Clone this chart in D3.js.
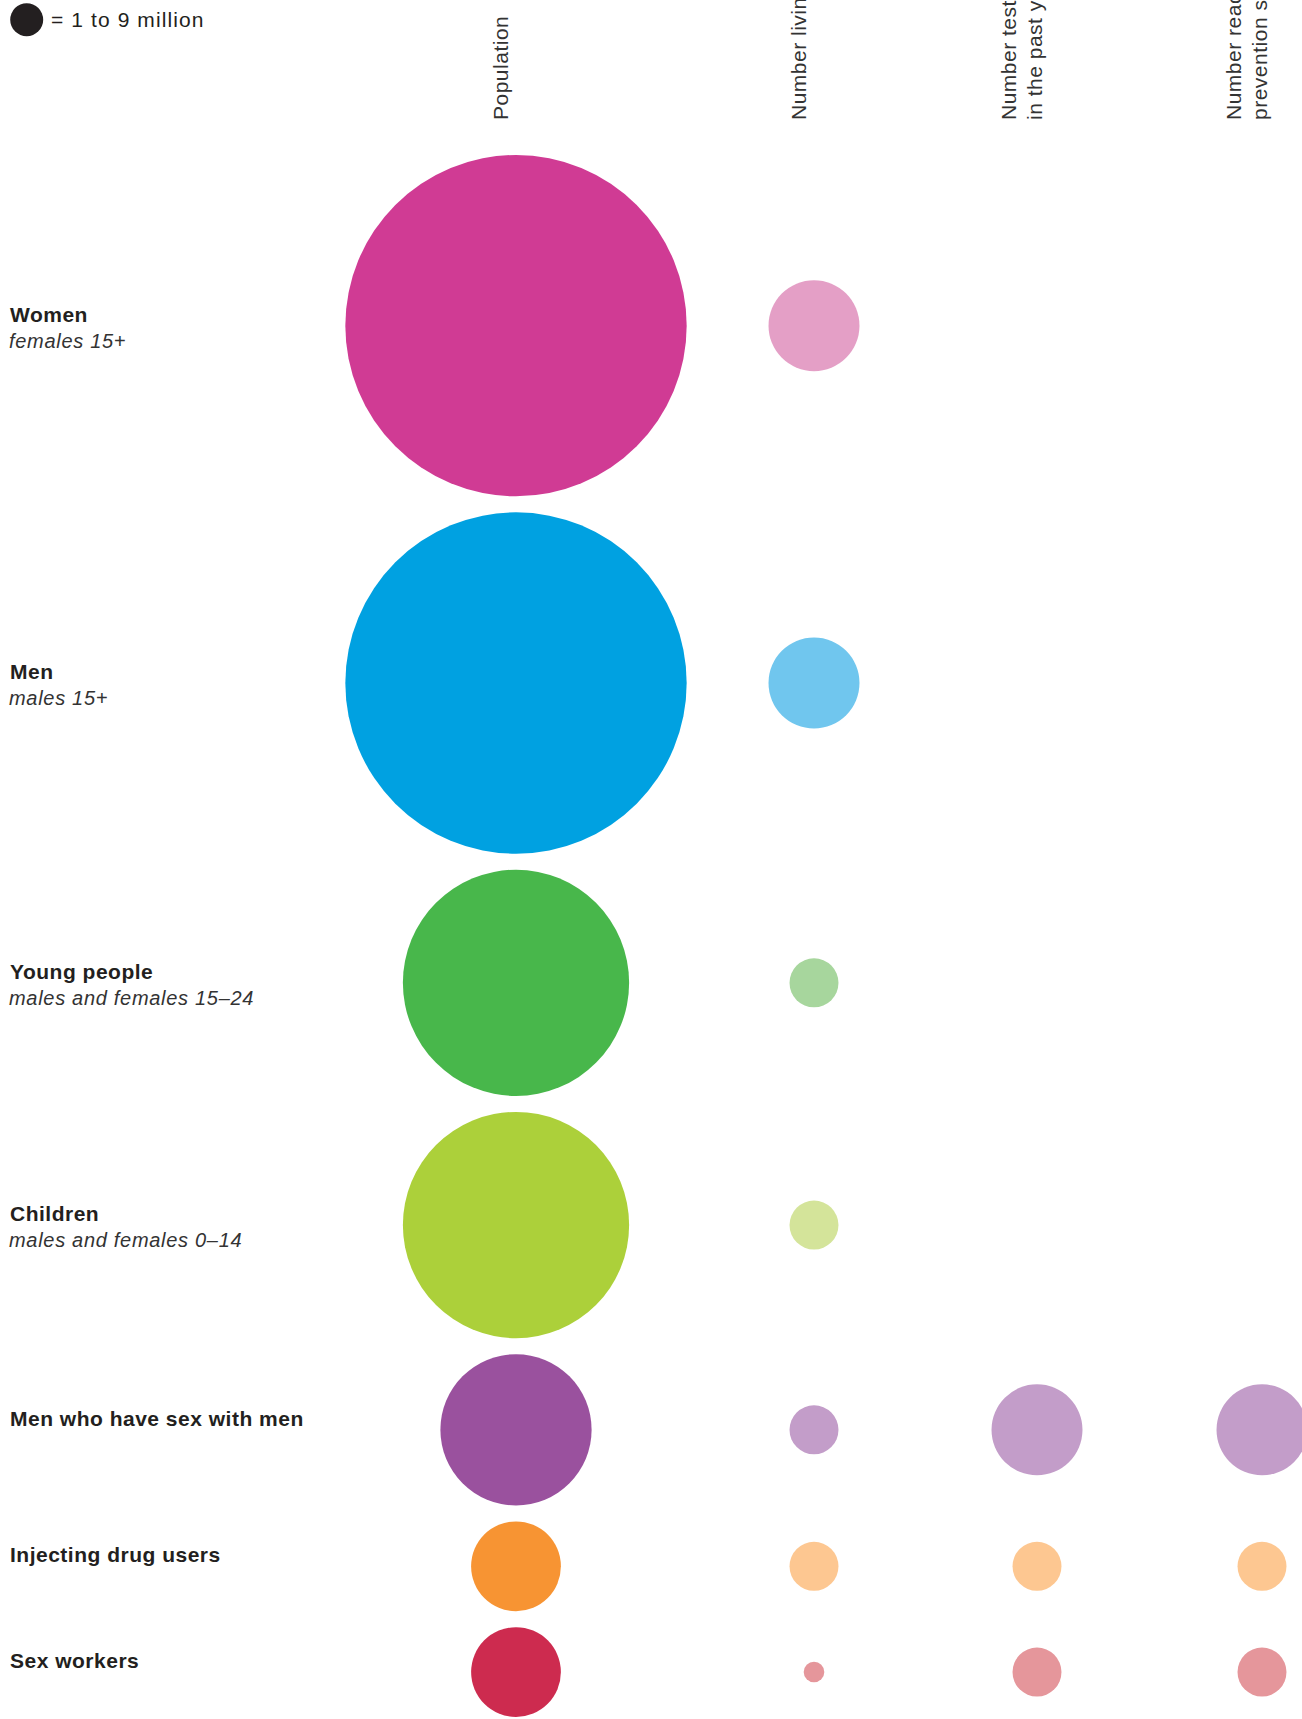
<!DOCTYPE html>
<html>
<head>
<meta charset="utf-8">
<script src="https://cdn.jsdelivr.net/npm/d3@7"></script>
<style>
  body { margin: 0; background: #fff; }
  svg { display: block; }
  text { font-family: "Liberation Sans", Arial, Helvetica, sans-serif; fill: #231f20; }
  .group-name { font-weight: bold; font-size: 21px; letter-spacing: 0.5px; }
  .group-sub { font-style: italic; font-size: 20px; letter-spacing: 0.7px; fill: #333; }
  .col-head { font-size: 21px; letter-spacing: 0.5px; fill: #333; }
  .legend-text { font-size: 21px; letter-spacing: 1.1px; }
</style>
</head>
<body>
<div id="chart"></div>
<script>
// groups (rows)
const groups = ["Women", "Men", "Young people", "Children",
    "Men who have sex with men", "Injecting drug users", "Sex workers"];
const subtitles = ["females 15+", "males 15+", "males and females 15–24",
    "males and females 0–14", "", "", ""];

// measures (columns) and their header lines
const measures = ["Population", "Number living with HIV",
    "Number tested for HIV in the past year", "Number reached by HIV prevention services"];
const headerLines = [
    ["Population"],
    ["Number living with HIV"],
    ["Number tested for HIV", "in the past year"],
    ["Number reached by HIV", "prevention services"]
];

// values in millions (null = not shown)
const population = [107, 107, 47, 47, 21, 7.4, 7.4];
const livingWithHIV = [7.6, 7.6, 2.2, 2.2, 2.2, 2.2, 0.39];
const testedPastYear = [null, null, null, null, 7.6, 2.2, 2.2];
const reachedPrevention = [null, null, null, null, 7.6, 2.2, 2.2];

// legend
const legendValue = 1;
const legendLabel = "= 1 to 9 million";

// colours
const baseColors = ["#d03b94", "#00a1e1", "#48b74b", "#acd03a", "#9a519e", "#f79433", "#cd2b4f"];
const lightColors = ["#e49fc6", "#70c6ee", "#a7d69d", "#d4e49a", "#c39dc9", "#fdc791", "#e5969b"];

const width = 1302, height = 1719;

const svg = d3.select("#chart").append("svg")
    .attr("width", width)
    .attr("height", height)
    .attr("viewBox", `0 0 ${width} ${height}`);

const series = [population, livingWithHIV, testedPastYear, reachedPrevention];

// bubble size: area proportional to value, legend bubble = 1 million
const r = d3.scaleSqrt().domain([0, legendValue]).range([0, 16.5]);

const x = d3.scaleOrdinal().domain(measures).range([516, 814, 1037, 1262]);

// stack rows: each row is as tall as its largest bubble plus a gap
const rowGap = 16;
let rowTop = 155;
const rowY = groups.map((g, i) => {
    const maxR = d3.max(series, s => s[i] == null ? 0 : r(s[i]));
    const cy = rowTop + maxR;
    rowTop = cy + maxR + rowGap;
    return cy;
});

// legend
svg.append("circle")
    .attr("cx", 26.7)
    .attr("cy", 19.7)
    .attr("r", r(legendValue))
    .attr("fill", "#231f20");
svg.append("text")
    .attr("class", "legend-text")
    .attr("x", 51)
    .attr("y", 27)
    .text(legendLabel);

// column headers (rotated, reading bottom to top)
const lineH = 26.7;
measures.forEach((m, j) => {
    const lines = headerLines[j];
    const mid = x(m) - 8;
    lines.forEach((line, k) => {
        const bx = mid + (k - (lines.length - 1) / 2) * lineH;
        svg.append("text")
            .attr("class", "col-head")
            .attr("transform", `translate(${bx},120) rotate(-90)`)
            .attr("x", 0)
            .attr("y", 0)
            .text(line);
    });
});

// row labels
const labels = svg.append("g").attr("class", "labels");
groups.forEach((g, i) => {
    labels.append("text")
        .attr("class", "group-name")
        .attr("x", 10)
        .attr("y", rowY[i] - 4)
        .text(g);
    if (subtitles[i]) {
        labels.append("text")
            .attr("class", "group-sub")
            .attr("x", 9)
            .attr("y", rowY[i] + 22)
            .text(subtitles[i]);
    }
});

// bubbles
const cells = [];
series.forEach((s, j) => {
    s.forEach((v, i) => {
        if (v != null) cells.push({ group: i, measure: j, value: v });
    });
});

svg.append("g").attr("class", "bubbles")
    .selectAll("circle")
    .data(cells)
    .join("circle")
    .attr("cx", d => x(measures[d.measure]))
    .attr("cy", d => rowY[d.group])
    .attr("r", d => r(d.value))
    .attr("fill", d => d.measure === 0 ? baseColors[d.group] : lightColors[d.group]);
</script>
</body>
</html>
